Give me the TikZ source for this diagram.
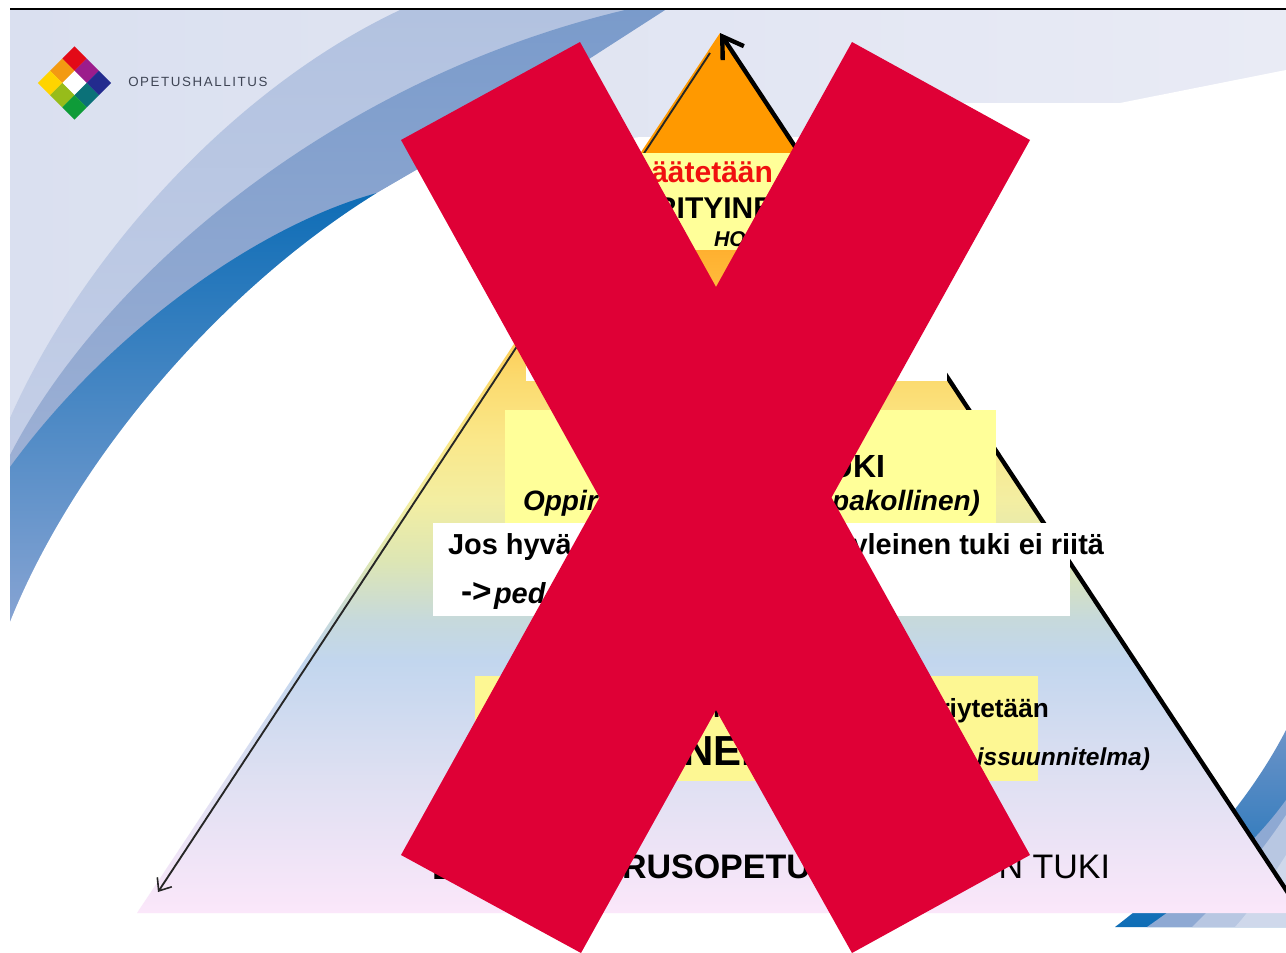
\documentclass[tikz,border=0pt]{standalone}
\usepackage{fontspec}
\setmainfont{Liberation Sans}
\newfontfamily\logofont[LetterSpace=12]{Liberation Sans}
\usetikzlibrary{arrows.meta}
\definecolor{pA}{HTML}{FF9900}
\definecolor{pB}{HTML}{FFB030}
\definecolor{pC}{HTML}{FFC040}
\definecolor{pD}{HTML}{FBDB70}
\definecolor{pDE}{HTML}{FAE88A}
\definecolor{pE}{HTML}{F3EEA2}
\definecolor{pF}{HTML}{DDE6B4}
\definecolor{pG}{HTML}{C6D9DC}
\definecolor{pH}{HTML}{C2D6EE}
\definecolor{pI}{HTML}{DFE0F2}
\definecolor{pJ}{HTML}{FBE7FA}
\definecolor{crossred}{HTML}{DF0036}
\definecolor{boxyellow}{HTML}{FFFF99}
\definecolor{boxyellowb}{HTML}{FDF793}
\definecolor{logotext}{HTML}{3F4555}
\definecolor{lgA}{HTML}{E30A17}
\definecolor{lgB}{HTML}{9C1C8C}
\definecolor{lgC}{HTML}{232B8E}
\definecolor{lgD}{HTML}{F39A12}
\definecolor{lgE}{HTML}{FFFFFF}
\definecolor{lgF}{HTML}{0B7178}
\definecolor{lgG}{HTML}{FFD400}
\definecolor{lgH}{HTML}{97BC1A}
\definecolor{lgI}{HTML}{0E9B38}
\pgfdeclareverticalshading{pyramidshade}{100bp}{
 color(0bp)=(pJ); color(25bp)=(pJ); color(32.51bp)=(pI); color(39.34bp)=(pH);
 color(41.61bp)=(pG); color(45.02bp)=(pF); color(48.44bp)=(pE); color(51.85bp)=(pDE); color(55.2bp)=(pD);
 color(59.81bp)=(pC); color(62.66bp)=(pB); color(68.17bp)=(pA); color(100bp)=(pA)}
\tikzset{
 txt/.style={inner sep=0pt,outer sep=0pt,font=\bfseries\fontsize{#1}{#1}\selectfont},
 itxt/.style={inner sep=0pt,outer sep=0pt,font=\bfseries\itshape\fontsize{#1}{#1}\selectfont},
 rtxt/.style={inner sep=0pt,outer sep=0pt,font=\fontsize{#1}{#1}\selectfont}
}
\begin{document}
\begin{tikzpicture}[x=0.75pt,y=-0.75pt]
\useasboundingbox (0,0) rectangle (1286,953);
\clip (0,0) rectangle (1286,953);
% background
\shade[left color={rgb,255:red,218;green,224;blue,240},right color={rgb,255:red,233;green,235;blue,245}]
  (10,10) rectangle (1286,700);
% upper left swoosh
\shade[top color={rgb,255:red,178;green,194;blue,224},bottom color={rgb,255:red,204;green,212;blue,234}]
  (400,10) .. controls (230,90) and (80,260) .. (10,418)
  -- (10,640) -- (377,193) -- (665,10) -- cycle;
\shade[top color={rgb,255:red,122;green,155;blue,203},bottom color={rgb,255:red,170;green,184;blue,216}]
  (625,10) .. controls (330,80) and (100,280) .. (10,455)
  -- (10,640) -- (377,193) -- (420,168) -- (665,10) -- cycle;
\shade[top color={rgb,255:red,14;green,109;blue,182},bottom color={rgb,255:red,140;green,166;blue,212}]
  (377,193) .. controls (260,225) and (110,330) .. (10,467)
  -- (10,640) -- cycle;
\fill[white] (10,622) .. controls (75,460) and (220,290) .. (377,193) -- (420,168)
  -- (640,137) -- (800,137) -- (963,103) -- (1120,103) -- (1286,70) -- (1286,953) -- (0,953) -- (10,622) -- cycle;
\fill[white] (0,0) rectangle (10,953);
\fill[white] (0,0) rectangle (1286,8);
% lower right swoosh
\shade[top color={rgb,255:red,107;green,147;blue,200},bottom color={rgb,255:red,14;green,109;blue,182}]
  (1115,927) .. controls (1190,870) and (1250,800) .. (1286,730) -- (1286,927) -- cycle;
\fill[fill={rgb,255:red,142;green,169;blue,211}]
  (1147,927) .. controls (1200,890) and (1250,850) .. (1286,800) -- (1286,927) -- cycle;
\fill[fill={rgb,255:red,184;green,199;blue,226}]
  (1192,927) .. controls (1225,895) and (1260,855) .. (1286,815) -- (1286,927) -- cycle;
\fill[fill={rgb,255:red,207;green,216;blue,235}]
  (1235,927) .. controls (1255,905) and (1270,880) .. (1286,855) -- (1286,927) -- cycle;
% top rule
\fill[black] (10,8) rectangle (1286,10);
% logo
\foreach \u/\v/\c in {0/0/lgA,1/0/lgB,2/0/lgC,0/1/lgD,1/1/lgE,2/1/lgF,0/2/lgG,1/2/lgH,2/2/lgI}{
  \pgfmathsetmacro{\dx}{(\u-\v)*12.17}
  \pgfmathsetmacro{\dy}{(\u+\v-2)*12.17-12.17}
  \fill[fill=\c] (74.5+\dx,83+\dy) -- ++(12.17,12.17) -- ++(-12.17,12.17) -- ++(-12.17,-12.17) -- cycle;
}
\node[anchor=base west,inner sep=0pt,text=logotext,font=\logofont\fontsize{10}{10}\selectfont] (logoname) at (128,86) {OPETUSHALLITUS};
% pyramid
\coordinate (apex) at (720,33);
\coordinate (baseL) at (137,913);
\coordinate (baseR) at (1301,913);
\coordinate (leftstart) at (710,53);
\coordinate (lefttip) at (158,892);
\coordinate (rightend) at (1300,911);
\shade[shading=pyramidshade] (apex) -- (baseR) -- (baseL) -- cycle;
\draw[line width=3.3pt,{Straight Barb[length=15pt,width=19pt,line width=3.3pt]}-] (apex) -- (rightend);
\draw[line width=1.4pt,draw=black!85,-{Straight Barb[length=8pt,width=13pt,line width=1.2pt]}] (leftstart) -- (lefttip);
% boxes
\fill[boxyellow] (640,153) rectangle (800,250);
\fill[white] (526,300) rectangle (947,381);
\fill[boxyellow] (505,410) rectangle (996,523);
\fill[white] (433,523) rectangle (1070,616);
\fill[white] (1069,523) rectangle (1106,557);
\fill[boxyellowb] (475,676) rectangle (1038,781);
% texts
\node[txt=22.5,anchor=base east,text={rgb,255:red,240;green,16;blue,16}] (t1) at (773,182) {päätetään};
\node[txt=22.5,anchor=base west] (t2) at (655,218) {RITYINE};
\node[itxt=16,anchor=base west] (t3) at (714,246) {HO};
\node[txt=24,anchor=base east] (t4) at (885,477) {UKI};
\node[itxt=21,anchor=base west] (t5) at (523,510) {Oppir};
\node[itxt=21,anchor=base east] (t6) at (980,510) {pakollinen)};
\node[txt=21.7,anchor=base west] (t7) at (448,554) {Jos hyvä};
\node[txt=21.7,anchor=base east] (t8) at (1104,554) {yleinen tuki ei riitä};
\node[txt=25,anchor=base west] (t9) at (461,602) {->};
\node[itxt=21.7,anchor=base west] (t10) at (494,603) {ped};
\node[txt=19.7,anchor=base east] (t11) at (1049,717) {riytetään};
\node[txt=19.7,anchor=base west] (t11b) at (713,717) {l};
\node[txt=31.5,anchor=base west] (t12) at (683,765) {NEN};
\node[itxt=18.4,anchor=base east] (t13) at (1150,765) {issuunnitelma)};
\node[txt=26,anchor=base west] (t14) at (432,879) {E};
\node[txt=25.5,anchor=base west] (t15) at (622,878) {RUSOPETU};
\node[rtxt=25.5,anchor=base east] (t16) at (1110,878) {N TUKI};
% red cross
\fill[crossred] (580,42) -- (716,287) -- (852,42) -- (1030,140) -- (831.5,497.5) -- (1030,855) -- (852,953)
  -- (716,710) -- (581,953) -- (401,855) -- (599.5,497.5) -- (401,140) -- cycle;
\end{tikzpicture}
\end{document}
